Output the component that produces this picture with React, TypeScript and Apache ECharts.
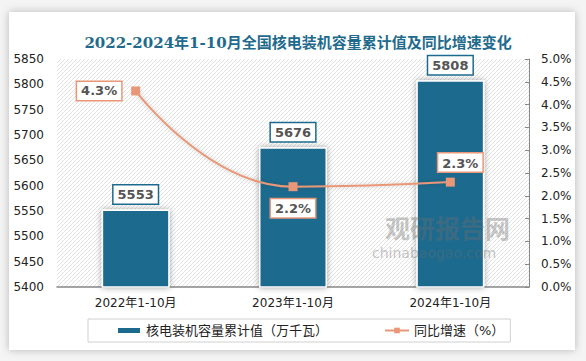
import React, { useEffect, useRef } from "react";
import * as echarts from "echarts";

const categories = ["2022年1-10月", "2023年1-10月", "2024年1-10月"];
const capacity = [5553, 5676, 5808];
const growth = [4.3, 2.2, 2.3];
const leftTicks = { min: 5400, max: 5850, interval: 50 };
const rightTicks = { min: 0, max: 5, interval: 0.5 };

const BAR = "#1c6b8e";
const LINE = "#e89878";
const FONT = "'DejaVu Sans', 'Noto Sans CJK SC', sans-serif";

function makeHatch(): HTMLCanvasElement {
  const c = document.createElement("canvas");
  c.width = 4;
  c.height = 4;
  const ctx = c.getContext("2d")!;
  ctx.fillStyle = "#ffffff";
  ctx.fillRect(0, 0, 4, 4);
  ctx.strokeStyle = "#e2e2e2";
  ctx.lineWidth = 1;
  ctx.beginPath();
  ctx.moveTo(0, 4);
  ctx.lineTo(4, 0);
  ctx.moveTo(-1, 1);
  ctx.lineTo(1, -1);
  ctx.moveTo(3, 5);
  ctx.lineTo(5, 3);
  ctx.stroke();
  return c;
}

export default function App() {
  const ref = useRef<HTMLDivElement>(null);
  useEffect(() => {
    if (!ref.current) return;
    const chart = echarts.init(ref.current, undefined, { renderer: "svg" });
    const hatch = makeHatch();
    const lineLabelPos: any[] = [
      { position: "left", distance: 10 },
      { position: "bottom", distance: 8 },
      { position: "top", distance: 6, offset: [10, 0] },
    ];
    chart.setOption({
      animation: false,
      backgroundColor: "transparent",
      title: {
        text: "2022-2024年1-10月全国核电装机容量累计值及同比增速变化",
        left: 293,
        textAlign: "center",
        top: 30,
        textStyle: {
          color: "#1f6b8e",
          fontSize: 15,
          fontWeight: "bold",
          fontFamily: "'DejaVu Serif', 'Noto Sans CJK SC', serif",
        },
      },
      graphic: [
        {
          type: "rect",
          shape: { x: 57, y: 59, width: 472, height: 228 },
          style: { fill: { image: hatch, repeat: "repeat" } as any },
          z: -10,
          silent: true,
        },
        {
          type: "text",
          left: 385,
          top: 214,
          style: {
            text: "观研报告网",
            fontSize: 25,
            fontWeight: "bold",
            fill: "rgba(110,110,110,0.4)",
            fontFamily: "'Noto Sans CJK SC', sans-serif",
          },
          z: 10,
          silent: true,
        },
        {
          type: "text",
          left: 372,
          top: 246,
          style: {
            text: "chinabaogao.com",
            fontSize: 14,
            fill: "rgba(110,110,110,0.4)",
            fontFamily: FONT,
          },
          z: 10,
          silent: true,
        },
      ],
      grid: { left: 57, right: 57, top: 59, bottom: 74 },
      legend: {
        left: 88,
        top: 319,
        padding: [5, 6, 5, 28],
        borderColor: "#d0d0d0",
        borderWidth: 1,
        itemGap: 56,
        itemWidth: 24,
        itemHeight: 7,
        textStyle: { fontSize: 13, color: "#222", fontFamily: FONT },
        data: [
          { name: "核电装机容量累计值（万千瓦）", icon: "rect" },
          { name: "同比增速（%）" },
        ],
      },
      xAxis: {
        type: "category",
        data: categories,
        axisLine: { show: true, lineStyle: { color: "#888", width: 1.5 } },
        axisTick: { show: false },
        axisLabel: { color: "#222", fontSize: 12, margin: 10, fontFamily: FONT },
      },
      yAxis: [
        {
          type: "value",
          min: leftTicks.min,
          max: leftTicks.max,
          interval: leftTicks.interval,
          axisLine: { show: false },
          axisTick: { show: false },
          splitLine: { show: false },
          axisLabel: {
            color: "#222",
            fontSize: 12,
            margin: 13,
            fontFamily: FONT,
            formatter: (v: number) => String(v),
          },
        },
        {
          type: "value",
          min: rightTicks.min,
          max: rightTicks.max,
          interval: rightTicks.interval,
          position: "right",
          axisLine: { show: true, lineStyle: { color: "#888", width: 1 } },
          axisTick: { show: true, inside: true, length: 4, lineStyle: { color: "#888" } },
          splitLine: { show: false },
          axisLabel: {
            color: "#222",
            fontSize: 12,
            margin: 12,
            fontFamily: FONT,
            formatter: (v: number) => v.toFixed(1) + "%",
          },
        },
      ],
      series: [
        {
          name: "核电装机容量累计值（万千瓦）",
          type: "bar",
          data: capacity,
          barWidth: 68,
          itemStyle: {
            color: BAR,
            borderColor: "#fff",
            borderWidth: 1.5,
            shadowBlur: 6,
            shadowColor: "rgba(0,0,0,0.35)",
          },
          label: {
            show: true,
            position: "top",
            distance: 6,
            color: "#555",
            fontSize: 13,
            fontWeight: "bold",
            fontFamily: FONT,
            backgroundColor: "#fff",
            borderColor: BAR,
            borderWidth: 1.5,
            padding: [3, 4, 2, 4],
          },
          z: 2,
        },
        {
          name: "同比增速（%）",
          type: "line",
          yAxisIndex: 1,
          smooth: 0.5,
          data: growth.map((v, i) => ({
            value: v,
            label: lineLabelPos[i],
          })),
          symbol: "rect",
          symbolSize: 9,
          lineStyle: { color: LINE, width: 2, shadowBlur: 4, shadowColor: "rgba(0,0,0,0.2)" },
          itemStyle: { color: LINE },
          label: {
            show: true,
            color: "#555",
            fontSize: 13,
            fontWeight: "bold",
            fontFamily: FONT,
            backgroundColor: "#fff",
            borderColor: LINE,
            borderWidth: 1.5,
            padding: [3, 4, 2, 4],
            formatter: (p: any) => p.value.toFixed(1) + "%",
          },
          z: 3,
        },
      ],
    });
    return () => chart.dispose();
  }, []);

  return (
    <div style={{ position: "fixed", left: 0, top: 0, width: 586, height: 361, background: "#f4f4f4" }}>
      <div
        style={{
          position: "absolute",
          left: 9,
          top: 12,
          width: 566,
          height: 338,
          background: "#fff",
          boxShadow: "0 0 8px rgba(0,0,0,0.25)",
        }}
      />
      <div ref={ref} style={{ position: "absolute", left: 0, top: 0, width: 586, height: 361 }} />
    </div>
  );
}
